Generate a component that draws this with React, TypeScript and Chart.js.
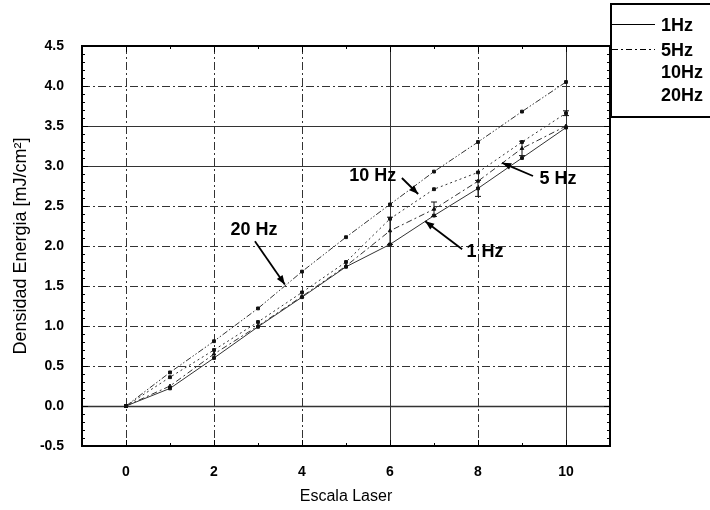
import React, { useEffect, useRef } from 'react';
import { Chart, registerables } from 'chart.js';
Chart.register(...registerables);

const FONT = 'Liberation Sans, Arial, Helvetica, sans-serif';

// ---- data ----
const xValues = [0, 1, 2, 3, 4, 5, 6, 7, 8, 9, 10];
const series1Hz = [0, 0.22, 0.6, 0.99, 1.36, 1.74, 2.02, 2.38, 2.72, 3.1, 3.48];
const series5Hz = [0, 0.25, 0.65, 1.0, 1.37, 1.75, 2.19, 2.46, 2.81, 3.22, 3.5];
const series10Hz = [0, 0.36, 0.7, 1.05, 1.42, 1.8, 2.34, 2.71, 2.92, 3.3, 3.66];
const series20Hz = [0, 0.42, 0.81, 1.22, 1.68, 2.11, 2.52, 2.93, 3.3, 3.68, 4.05];
const err1Hz = [0, 0, 0, 0, 0, 0, 0, 0, 0.1, 0, 0];
const err5Hz = [0, 0, 0, 0, 0, 0, 0.17, 0.09, 0, 0.09, 0];
const err10Hz = [0, 0, 0, 0, 0, 0, 0, 0, 0, 0, 0.03];
const err20Hz = [0, 0, 0, 0, 0, 0, 0, 0, 0, 0, 0];
const seriesLabels = ['1Hz', '5Hz', '10Hz', '20Hz'];

const xTickValues = [0, 2, 4, 6, 8, 10];
const yTickValues = [-0.5, 0, 0.5, 1, 1.5, 2, 2.5, 3, 3.5, 4, 4.5];
const xGridValues = [0, 2, 4, 6, 8, 10];
const yGridValues = [0, 0.5, 1, 1.5, 2, 2.5, 3, 3.5, 4];
const xGridSolid = [6, 10];
const yGridSolid = [0, 3, 3.5];

const annoTexts = ['20 Hz', '10 Hz', '5 Hz', '1 Hz'];
const annoTextX = [2.91, 5.61, 9.82, 8.16];
const annoTextY = [2.2, 2.875, 2.84, 1.93];
const arrowFromX = [2.93, 6.27, 9.25, 7.64];
const arrowFromY = [2.06, 2.85, 2.875, 1.96];
const arrowToX = [3.61, 6.64, 8.55, 6.8];
const arrowToY = [1.52, 2.65, 3.04, 2.31];

const dashes: number[][] = [[], [6, 3, 2, 3], [2, 3], [6, 2, 1.5, 2, 1.5, 2]];
const legendDash: (number[] | null)[] = [[], [6, 3, 2, 3], null, null];

const decorPlugin = {
  id: 'decor',
  beforeDatasetsDraw(chart: any) {
    const { ctx, chartArea: a, scales } = chart;
    const xs = scales.x, ys = scales.y;
    ctx.save();
    ctx.strokeStyle = '#333';
    ctx.lineWidth = 1;
    xGridValues.forEach((v) => {
      const px = Math.round(xs.getPixelForValue(v)) + 0.5;
      ctx.setLineDash(xGridSolid.includes(v) ? [] : [8, 3, 2, 3]);
      ctx.beginPath();
      ctx.moveTo(px, a.top);
      ctx.lineTo(px, a.bottom);
      ctx.stroke();
    });
    yGridValues.forEach((v) => {
      const py = Math.round(ys.getPixelForValue(v)) + 0.5;
      ctx.setLineDash(yGridSolid.includes(v) ? [] : [8, 3, 2, 3]);
      ctx.lineWidth = v === 0 ? 1.5 : 1;
      ctx.beginPath();
      ctx.moveTo(a.left, py);
      ctx.lineTo(a.right, py);
      ctx.stroke();
    });
    ctx.restore();
  },
  afterDatasetsDraw(chart: any) {
    const { ctx, chartArea: a, scales } = chart;
    const xs = scales.x, ys = scales.y;
    ctx.save();
    // error bars
    const errs = [err1Hz, err5Hz, err10Hz, err20Hz];
    const vals = [series1Hz, series5Hz, series10Hz, series20Hz];
    ctx.strokeStyle = '#111';
    ctx.lineWidth = 1;
    ctx.setLineDash([]);
    errs.forEach((e, si) => {
      e.forEach((ev, i) => {
        if (!ev) return;
        const px = xs.getPixelForValue(xValues[i]);
        const p1 = ys.getPixelForValue(vals[si][i] + ev);
        const p2 = ys.getPixelForValue(vals[si][i] - ev);
        ctx.beginPath();
        ctx.moveTo(px, p1); ctx.lineTo(px, p2);
        ctx.moveTo(px - 3, p1); ctx.lineTo(px + 3, p1);
        ctx.moveTo(px - 3, p2); ctx.lineTo(px + 3, p2);
        ctx.stroke();
      });
    });
    // frame
    ctx.strokeStyle = '#000';
    ctx.lineWidth = 2;
    ctx.strokeRect(a.left, a.top, a.right - a.left, a.bottom - a.top);
    // ticks
    ctx.lineWidth = 1;
    ctx.beginPath();
    for (let v = -1; v <= 11; v += 1) {
      const px = Math.round(xs.getPixelForValue(v)) + 0.5;
      const len = v % 2 === 0 ? 6 : 3;
      ctx.moveTo(px, a.bottom); ctx.lineTo(px, a.bottom - len);
      ctx.moveTo(px, a.top); ctx.lineTo(px, a.top + len);
    }
    for (let k = -5; k <= 45; k += 1) {
      const v = k / 10;
      const py = Math.round(ys.getPixelForValue(v)) + 0.5;
      const len = k % 5 === 0 ? 6 : 3;
      ctx.moveTo(a.left, py); ctx.lineTo(a.left + len, py);
      ctx.moveTo(a.right, py); ctx.lineTo(a.right - len, py);
    }
    ctx.stroke();
    // annotations
    ctx.fillStyle = '#000';
    ctx.font = `bold 18px ${FONT}`;
    ctx.textAlign = 'center';
    ctx.textBaseline = 'middle';
    annoTexts.forEach((t, i) => {
      ctx.fillText(t, xs.getPixelForValue(annoTextX[i]), ys.getPixelForValue(annoTextY[i]));
      const x0 = xs.getPixelForValue(arrowFromX[i]);
      const y0 = ys.getPixelForValue(arrowFromY[i]);
      const x1 = xs.getPixelForValue(arrowToX[i]);
      const y1 = ys.getPixelForValue(arrowToY[i]);
      ctx.lineWidth = 1.8;
      ctx.beginPath();
      ctx.moveTo(x0, y0); ctx.lineTo(x1, y1);
      ctx.stroke();
      const ang = Math.atan2(y1 - y0, x1 - x0);
      const L = 9, W = 3.5;
      ctx.beginPath();
      ctx.moveTo(x1, y1);
      ctx.lineTo(x1 - L * Math.cos(ang) + W * Math.sin(ang), y1 - L * Math.sin(ang) - W * Math.cos(ang));
      ctx.lineTo(x1 - L * Math.cos(ang) - W * Math.sin(ang), y1 - L * Math.sin(ang) + W * Math.cos(ang));
      ctx.closePath();
      ctx.fill();
    });
    // legend box
    const lx = 611, ly = 4, lw = 110, lh = 113;
    ctx.fillStyle = '#fff';
    ctx.fillRect(lx, ly, lw, lh);
    ctx.strokeStyle = '#000';
    ctx.lineWidth = 2;
    ctx.strokeRect(lx, ly, lw, lh);
    ctx.fillStyle = '#000';
    ctx.font = `bold 18px ${FONT}`;
    ctx.textAlign = 'left';
    const rowY = [26, 51, 73, 96];
    chart.data.datasets.forEach((ds: any, i: number) => {
      const d = legendDash[i];
      if (d) {
        ctx.lineWidth = 1;
        ctx.setLineDash(d);
        ctx.beginPath();
        ctx.moveTo(lx + 1, rowY[i] - 2 + 0.5);
        ctx.lineTo(lx + 44, rowY[i] - 2 + 0.5);
        ctx.stroke();
        ctx.setLineDash([]);
      }
      ctx.fillText(ds.label, lx + 50, rowY[i]);
    });
    ctx.restore();
  },
};

export default function App() {
  const ref = useRef<HTMLCanvasElement>(null);
  useEffect(() => {
    if (!ref.current) return;
    const all = [series1Hz, series5Hz, series10Hz, series20Hz];
    const styles = ['rect', 'triangle', 'rect', 'rect'];
    const chart = new Chart(ref.current, {
      type: 'line',
      data: {
        datasets: all.map((s, i) => ({
          label: seriesLabels[i],
          data: xValues.map((x, j) => ({ x, y: s[j] })),
          borderColor: '#333',
          borderWidth: 1,
          borderDash: dashes[i],
          pointStyle: styles[i] as any,
          pointRadius: 2,
          pointBackgroundColor: '#111',
          pointBorderColor: '#111',
          pointBorderWidth: 1,
          fill: false,
          tension: 0,
        })),
      },
      options: {
        responsive: false,
        animation: false,
        layout: { padding: { top: 46, right: 100, left: 0, bottom: 0 } },
        plugins: { legend: { display: false }, tooltip: { enabled: false } },
        scales: {
          x: {
            type: 'linear',
            min: -1,
            max: 11,
            grid: { display: false },
            border: { display: false },
            afterBuildTicks: (s: any) => { s.ticks = xTickValues.map((v) => ({ value: v })); },
            afterFit: (s: any) => { s.height = 64; },
            ticks: {
              padding: 10,
              color: '#000',
              maxRotation: 0,
              autoSkip: false,
              font: { family: FONT, size: 14, weight: 'bold' },
              callback: (v: any) => String(v),
            },
            title: {
              display: true,
              text: 'Escala Laser',
              color: '#000',
              font: { family: FONT, size: 16 },
              padding: { top: 0, bottom: 4 },
            },
          },
          y: {
            type: 'linear',
            min: -0.5,
            max: 4.5,
            grid: { display: false },
            border: { display: false },
            afterBuildTicks: (s: any) => { s.ticks = yTickValues.map((v) => ({ value: v })); },
            afterFit: (s: any) => { s.width = 82; },
            ticks: {
              padding: 10,
              color: '#000',
              autoSkip: false,
              font: { family: FONT, size: 14, weight: 'bold' },
              callback: (v: any) => Number(v).toFixed(1),
            },
            title: {
              display: true,
              text: 'Densidad Energia [mJ/cm²]',
              color: '#000',
              font: { family: FONT, size: 18 },
              padding: { top: 10, bottom: 0 },
            },
          },
        },
      },
      plugins: [decorPlugin],
    } as any);
    return () => chart.destroy();
  }, []);
  return (
    <div style={{ position: 'absolute', left: 0, top: 0, width: 710, height: 510, background: '#fff' }}>
      <canvas ref={ref} width={710} height={510} />
    </div>
  );
}
